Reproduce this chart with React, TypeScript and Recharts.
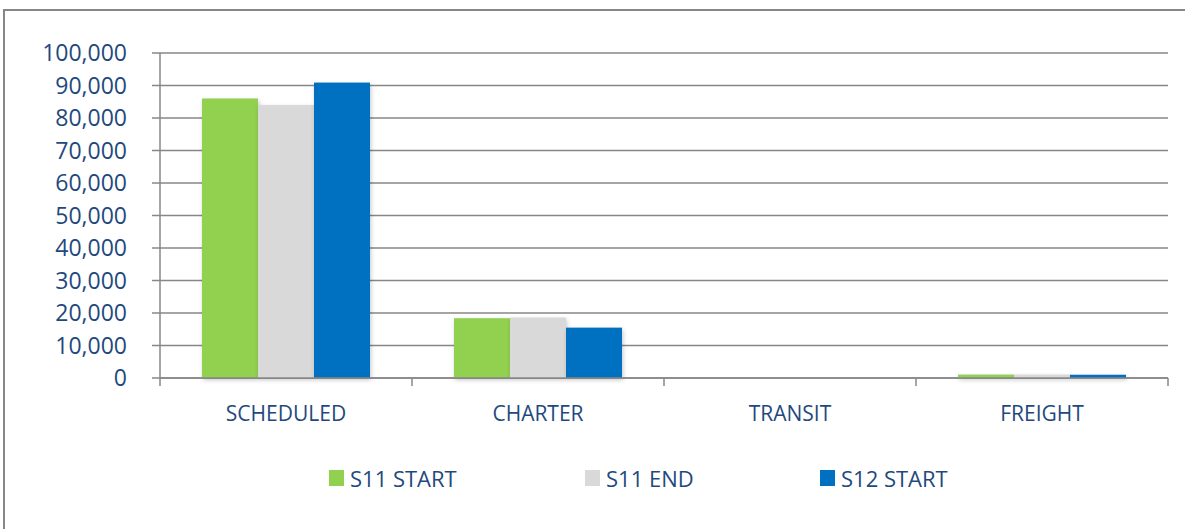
import React from 'react';
import { BarChart, Bar, XAxis, YAxis, CartesianGrid, Legend } from 'recharts';

const categories = ['SCHEDULED', 'CHARTER', 'TRANSIT', 'FREIGHT'];
const s11Start = [86000, 18400, 0, 1050];
const s11End = [84000, 18600, 0, 1050];
const s12Start = [90900, 15500, 0, 1000];
const seriesKeys = ['s11Start', 's11End', 's12Start'];
const seriesNames = ['S11 START', 'S11 END', 'S12 START'];
const seriesColors = ['#92D050', '#D9D9D9', '#0070C0'];
const yTicks = [0, 10000, 20000, 30000, 40000, 50000, 60000, 70000, 80000, 90000, 100000];

const data = categories.map((c, i) => ({
  name: c,
  s11Start: s11Start[i],
  s11End: s11End[i],
  s12Start: s12Start[i],
}));

const W = 1185;
const H = 529;
const M = { top: 53, right: 17, left: 0, bottom: 29 };
const Y_AXIS_W = 160;
const PLOT_W = W - M.left - M.right - Y_AXIS_W;
const FONT = "'Open Sans', sans-serif";
const TEXT = '#1F497D';
const GRID = '#878787';

const fmt = (v: number) => v.toLocaleString('en-US');

const CategoryTick = (props: any) => {
  const { x, y, payload, index } = props;
  const band = PLOT_W / categories.length;
  const left = x - band / 2;
  const right = x + band / 2;
  return (
    <g>
      <line x1={left} x2={left} y1={y} y2={y + 8} stroke={GRID} strokeWidth={1.5} />
      {index === categories.length - 1 && (
        <line x1={right} x2={right} y1={y} y2={y + 8} stroke={GRID} strokeWidth={1.5} />
      )}
      <text x={x} y={y + 43} textAnchor="middle" fill={TEXT} fontFamily={FONT} fontSize={21}>
        {payload.value}
      </text>
    </g>
  );
};

const ShadowBar = (props: any) => {
  const { x, y, width, height, fill } = props;
  if (!height || height <= 0) return null;
  return (
    <rect
      x={x}
      y={y}
      width={width}
      height={height}
      fill={fill}
      style={{ filter: 'drop-shadow(1px 2px 2px rgba(0,0,0,0.22))' }}
    />
  );
};

const itemWidths = [256, 235, undefined];

const renderLegend = () => (
  <div
    style={{
      display: 'flex',
      alignItems: 'center',
      height: 44,
      paddingLeft: 329,
      boxSizing: 'border-box',
    }}
  >
    {seriesNames.map((n, i) => (
      <div key={n} style={{ display: 'flex', alignItems: 'center', width: itemWidths[i] }}>
        <span
          style={{
            display: 'inline-block',
            width: 15,
            height: 16,
            background: seriesColors[i],
            marginRight: 6,
          }}
        />
        <span style={{ fontFamily: FONT, fontSize: 22, color: TEXT, lineHeight: '44px' }}>{n}</span>
      </div>
    ))}
  </div>
);

export default function App() {
  return (
    <div
      style={{
        position: 'absolute',
        left: 0,
        top: 0,
        width: W,
        height: H,
        overflow: 'hidden',
        background: '#fff',
      }}
    >
      <div
        style={{
          position: 'absolute',
          left: 3,
          top: 9,
          width: 1400,
          height: 800,
          border: `2px solid ${GRID}`,
          boxSizing: 'border-box',
        }}
      />
      <BarChart
        width={W}
        height={H}
        data={data}
        margin={M}
        barCategoryGap="16.67%"
        barGap={0}
      >
        <CartesianGrid vertical={false} stroke={GRID} strokeWidth={1.5} />
        <XAxis
          dataKey="name"
          height={78}
          tickSize={0}
          tickMargin={0}
          tickLine={false}
          axisLine={{ stroke: GRID, strokeWidth: 1.5 }}
          tick={<CategoryTick />}
          interval={0}
        />
        <YAxis
          width={Y_AXIS_W}
          domain={[0, 100000]}
          ticks={yTicks}
          tickFormatter={fmt}
          tickSize={8}
          tickMargin={25}
          axisLine={{ stroke: GRID, strokeWidth: 1.5 }}
          tickLine={{ stroke: GRID, strokeWidth: 1.5 }}
          tick={{ fill: TEXT, fontFamily: FONT, fontSize: 23 }}
          interval={0}
        />
        <Legend verticalAlign="bottom" content={renderLegend} />
        {seriesKeys.map((k, i) => (
          <Bar
            key={k}
            dataKey={k}
            name={seriesNames[i]}
            fill={seriesColors[i]}
            shape={<ShadowBar />}
            isAnimationActive={false}
          />
        ))}
      </BarChart>
    </div>
  );
}
